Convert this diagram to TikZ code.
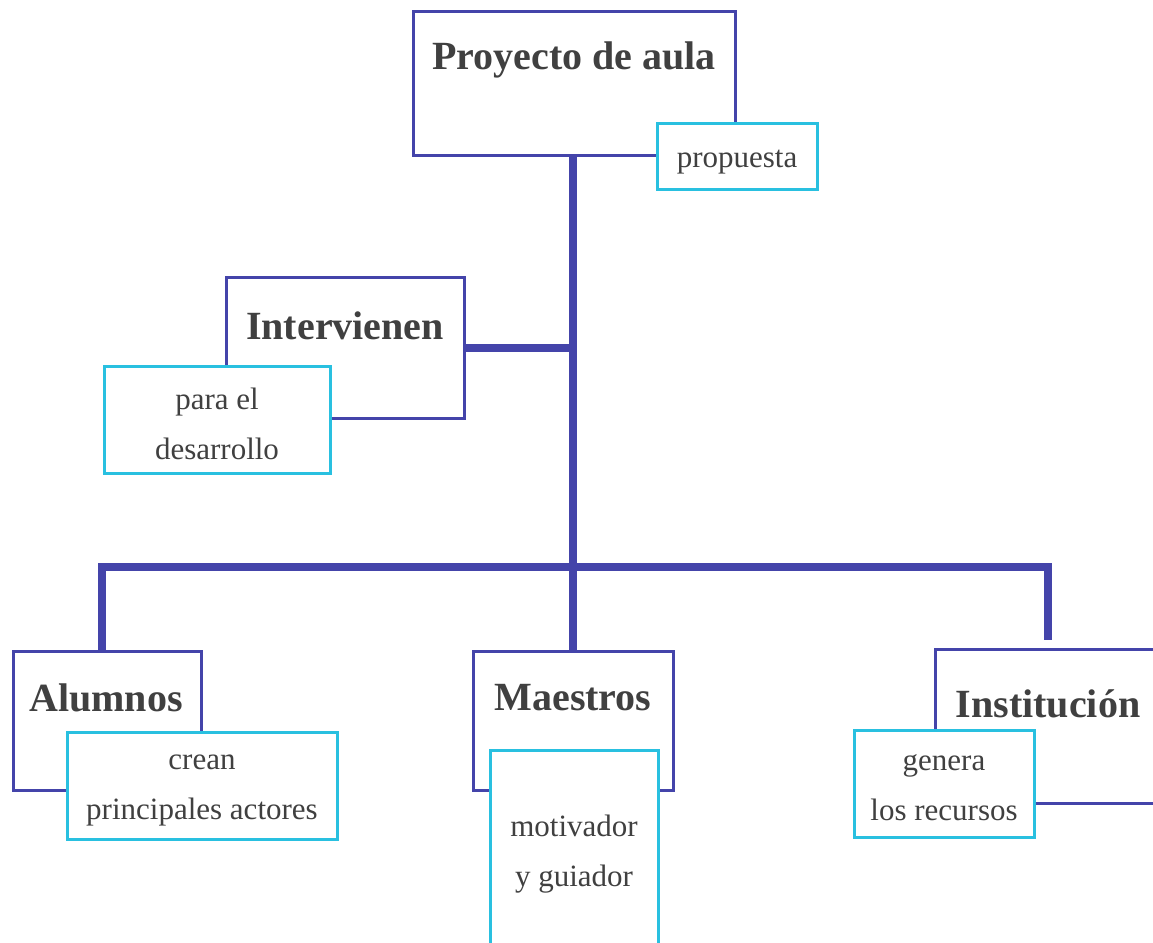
\documentclass[tikz,border=0pt]{standalone}
\usepackage{fontspec}
\setmainfont{Liberation Serif}
\definecolor{navy}{RGB}{68,68,170}
\definecolor{cyanb}{RGB}{41,192,224}
\definecolor{txt}{RGB}{64,64,64}
\begin{document}
\begin{tikzpicture}[x=1pt,y=-1pt,
  mainbox/.style={draw=navy,line width=3pt,fill=white,inner sep=0pt},
  subbox/.style={draw=cyanb,line width=3pt,fill=white,inner sep=0pt},
  title/.style={text=txt,font=\fontsize{40}{40}\selectfont\bfseries,inner sep=0pt},
  sub/.style={text=txt,font=\fontsize{31}{50}\selectfont,align=center,inner sep=0pt},
  link/.style={draw=navy,line width=8pt}]
\useasboundingbox (0,0) rectangle (1153,942);
% main boxes
\node[mainbox,minimum width=322pt,minimum height=143pt] (proyecto) at (574,83.5) {};
\node[mainbox,minimum width=238pt,minimum height=141pt] (intervienen) at (345,347.5) {};
\node[mainbox,minimum width=188pt,minimum height=139pt] (alumnos) at (107,720.5) {};
\node[mainbox,minimum width=200pt,minimum height=139pt] (maestros) at (573,720.5) {};
\node[mainbox,minimum width=260pt,minimum height=154pt] (institucion) at (1065,726) {};
% connectors
\coordinate (barL) at (102,567);
\coordinate (barR) at (1048,567);
\coordinate (instEnd) at (1048,640);
\coordinate (alumTop) at (102,650);
\draw[link] (proyecto.south -| maestros.north) -- (maestros.north);
\draw[link] (intervienen.east) -- (intervienen.east -| maestros.north);
\draw[link] (alumTop) -- (barL) -- (barR) -- (instEnd);
% titles
\node[title] (tproyecto) at (574,60) {Proyecto de aula};
\node[title] (tintervienen) at (345,326) {Intervienen};
\node[title] (talumnos) at (106,698) {Alumnos};
\node[title] (tmaestros) at (573,698) {Maestros};
\node[title] (tinstitucion) at (1048,704) {Institución};
% sub boxes
\node[subbox,minimum width=160pt,minimum height=66pt] (propuesta) at (737,156) {};
\node[sub] at (737,162) {propuesta};
\node[subbox,minimum width=226pt,minimum height=107pt] (desarrollo) at (217,419.5) {};
\node[sub] at (217,424) {para el\\desarrollo};
\node[subbox,minimum width=270pt,minimum height=107pt] (crean) at (202,785.5) {};
\node[sub] at (202,790) {crean\\principales actores};
\node[subbox,minimum width=168pt,minimum height=260pt] (motivador) at (574,880) {};
\node[sub] at (574,854) {motivador\\y guiador};
\node[subbox,minimum width=180pt,minimum height=107pt] (genera) at (944,783.5) {};
\node[sub] at (944,788) {genera\\los recursos};
\end{tikzpicture}
\end{document}
